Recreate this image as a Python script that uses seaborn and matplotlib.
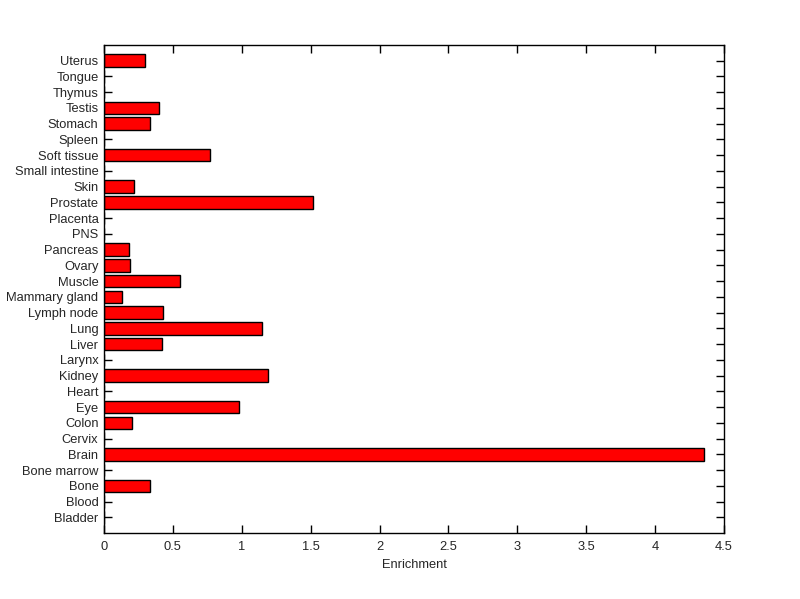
import matplotlib
matplotlib.use("Agg")
import matplotlib.pyplot as plt
import seaborn as sns
import pandas as pd

tissues = ["Bladder", "Blood", "Bone", "Bone marrow", "Brain", "Cervix", "Colon", "Eye",
           "Heart", "Kidney", "Larynx", "Liver", "Lung", "Lymph node", "Mammary gland",
           "Muscle", "Ovary", "Pancreas", "PNS", "Placenta", "Prostate", "Skin",
           "Small intestine", "Soft tissue", "Spleen", "Stomach", "Testis", "Thymus",
           "Tongue", "Uterus"]
enrichment = [0, 0, 0.337, 0, 4.357, 0, 0.206, 0.982,
              0, 1.193, 0, 0.424, 1.149, 0.431, 0.133,
              0.554, 0.189, 0.184, 0, 0, 1.52, 0.22,
              0, 0.772, 0, 0.337, 0.402, 0, 0, 0.30]
xticks = [0, 0.5, 1, 1.5, 2, 2.5, 3, 3.5, 4, 4.5]
xticklabels = ["0", "0.5", "1", "1.5", "2", "2.5", "3", "3.5", "4", "4.5"]

df = pd.DataFrame({"Tissue": tissues, "Enrichment": enrichment})
order = tissues[::-1]

sns.set_style("white")
plt.rcParams['font.family'] = ['Liberation Sans', 'DejaVu Sans']

fs = 9.3
fig = plt.figure(figsize=(8, 5.99), dpi=100)
ax = fig.add_axes([0.13, 0.11, 0.775, 0.815])
sns.barplot(data=df, x="Enrichment", y="Tissue", order=order, orient="h",
            color="#ff0000", saturation=1, edgecolor="black", linewidth=1,
            width=0.8, ax=ax)
ax.set_xlim(0, 4.5)
ax.set_ylim(30, -1)
ax.set_xticks(xticks)
ax.set_xticklabels(xticklabels, fontsize=fs)
ax.set_yticks(range(len(order)))
ax.set_yticklabels(order, fontsize=fs)
ax.set_xlabel("Enrichment", fontsize=fs, labelpad=4)
ax.set_ylabel("")
for s in ax.spines.values():
    s.set_visible(True)
    s.set_color("black")
    s.set_linewidth(1)
ax.tick_params(direction="in", length=6, width=1, color="black",
               top=True, right=True, bottom=True, left=True, pad=4)
ax.tick_params(axis="x", pad=6)
fig.savefig("out.png", dpi=100, facecolor="white")
